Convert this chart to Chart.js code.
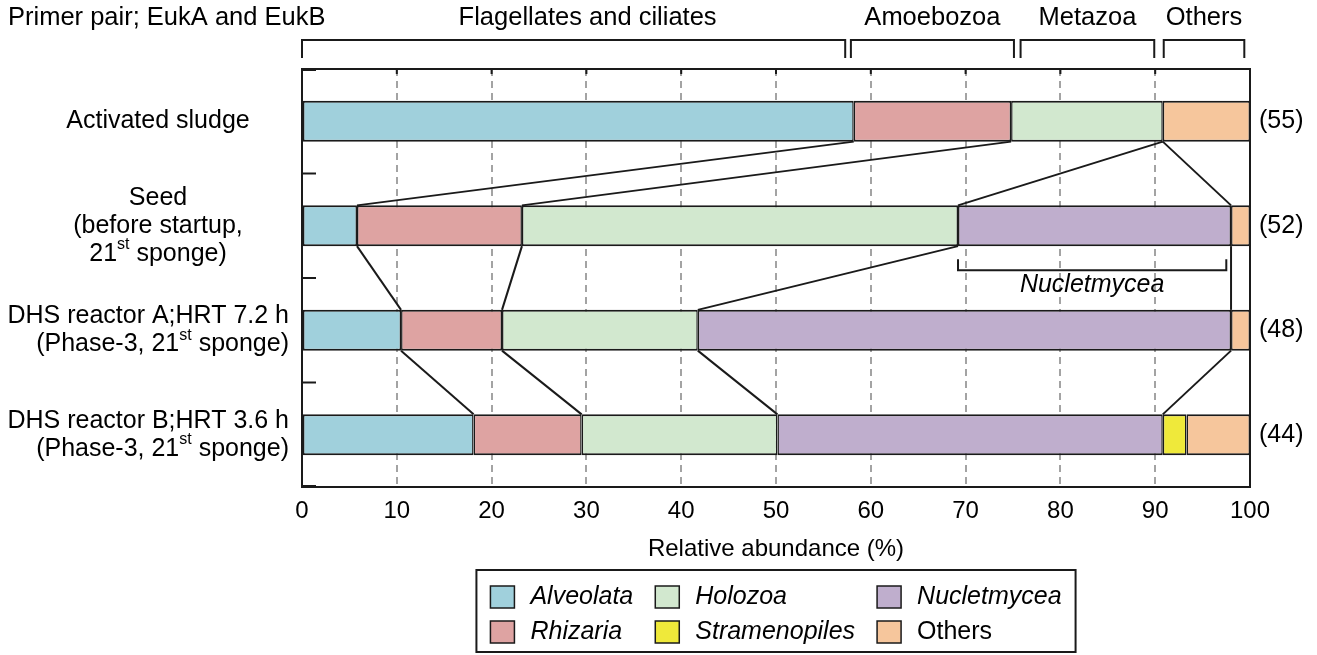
<!DOCTYPE html>
<html lang="en">
<head>
<meta charset="UTF-8">
<title>Eukaryotic community composition</title>
<script src="https://cdn.jsdelivr.net/npm/chart.js"></script>
<style>
  html, body { margin: 0; padding: 0; background: #fff; }
  .wrap { width: 1317px; height: 655px; }
</style>
</head>
<body>
<div class="wrap"><canvas id="myChart" width="1317" height="655"></canvas></div>
<script>
// rows, top to bottom ("^{st}" marks a superscript)
const rowLabels = [
  'Activated sludge',
  'Seed\n(before startup,\n21^{st} sponge)',
  'DHS reactor A;HRT 7.2 h\n(Phase-3, 21^{st} sponge)',
  'DHS reactor B;HRT 3.6 h\n(Phase-3, 21^{st} sponge)'
];
const rowCounts = ['(55)', '(52)', '(48)', '(44)'];

// relative abundance (%) per row
const alveolata     = [58.2, 5.8, 10.45, 18.1];
const rhizaria      = [16.6, 17.4, 10.65, 11.4];
const holozoa       = [16.0, 46.0, 20.65, 20.65];
const nucletmycea   = [0, 28.8, 56.25, 40.65];
const stramenopiles = [0, 0, 0, 2.5];
const others        = [9.2, 2.0, 2.0, 6.7];

const seriesNames = ['Alveolata', 'Rhizaria', 'Holozoa', 'Nucletmycea', 'Stramenopiles', 'Others'];
const seriesItalic = [true, true, true, true, true, false];
// legend columns (series indices, top to bottom)
const legendColumns = [[0, 1], [2, 4], [3, 5]];

const xTicks = [0, 10, 20, 30, 40, 50, 60, 70, 80, 90, 100];

// brackets above the chart (x range in %)
const groupLabels = ['Flagellates and ciliates', 'Amoebozoa', 'Metazoa', 'Others'];
const groupFrom = [0, 57.9, 75.8, 90.9];
const groupTo = [57.3, 75.1, 89.9, 99.4];

// bracket under the Seed bar
const nucBracket = [69.2, 97.5];

const FONT = '"Liberation Sans", Arial, sans-serif';
const INK = '#1a1a1a';
const colors = ['#a0d0dc', '#dea3a2', '#d2e8cf', '#bfaecd', '#efe93a', '#f6c69c'];

function drawRich(ctx, line, x, y, align, size) {
  const parts = [];
  line.split(/(\^\{[^}]*\})/).forEach(p => {
    if (!p) return;
    if (p.startsWith('^{')) parts.push({ t: p.slice(2, -1), sup: true });
    else parts.push({ t: p, sup: false });
  });
  const supSize = Math.round(size * 0.62);
  let w = 0;
  parts.forEach(p => {
    ctx.font = (p.sup ? supSize : size) + 'px ' + FONT;
    p.w = ctx.measureText(p.t).width;
    w += p.w;
  });
  let cx = align === 'right' ? x - w : (align === 'center' ? x - w / 2 : x);
  ctx.textAlign = 'left';
  ctx.textBaseline = 'middle';
  parts.forEach(p => {
    ctx.font = (p.sup ? supSize : size) + 'px ' + FONT;
    ctx.fillText(p.t, cx, p.sup ? y - size * 0.36 : y);
    cx += p.w;
  });
}

function line(ctx, x1, y1, x2, y2) {
  ctx.beginPath();
  ctx.moveTo(x1, y1);
  ctx.lineTo(x2, y2);
  ctx.stroke();
}

const decor = {
  id: 'decor',
  beforeDatasetsDraw(chart) {
    const { ctx, chartArea: a, scales: { x, y } } = chart;
    ctx.save();
    ctx.strokeStyle = INK;
    ctx.lineWidth = 2;
    ctx.strokeRect(a.left, a.top, a.right - a.left, a.bottom - a.top);
    // inward ticks on the left at category boundaries
    const n = rowLabels.length;
    for (let i = 0; i <= n; i++) {
      const py = i === 0 ? a.top + 1 : (i === n ? a.bottom - 1 :
        (y.getPixelForValue(i - 1) + y.getPixelForValue(i)) / 2);
      line(ctx, a.left, py, a.left + 14, py);
    }
    // small inward ticks on top
    xTicks.slice(1, -1).forEach(v => {
      const px = x.getPixelForValue(v);
      line(ctx, px, a.top, px, a.top + 5);
    });
    ctx.restore();
  },
  afterDatasetsDraw(chart) {
    const { ctx, chartArea: a, scales: { x, y } } = chart;
    const ds = chart.data.datasets;
    const bars = chart.getDatasetMeta(0).data;
    const cum = (row, upto) => {
      let s = 0;
      for (let k = 0; k <= upto; k++) s += ds[k].data[row];
      return s;
    };
    ctx.save();
    ctx.strokeStyle = INK;
    ctx.fillStyle = '#000';
    ctx.lineWidth = 2;

    // connector lines between consecutive bars
    for (let r = 0; r < bars.length - 1; r++) {
      const yb = bars[r].y + bars[r].height / 2;
      const yt = bars[r + 1].y - bars[r + 1].height / 2;
      for (let s = 0; s < 4; s++) {
        line(ctx, x.getPixelForValue(cum(r, s)), yb, x.getPixelForValue(cum(r + 1, s)), yt);
      }
    }

    // Nucletmycea bracket under Seed
    const sb = bars[1].y + bars[1].height / 2;
    const bx1 = x.getPixelForValue(nucBracket[0]);
    const bx2 = x.getPixelForValue(nucBracket[1]);
    ctx.beginPath();
    ctx.moveTo(bx1, sb + 13);
    ctx.lineTo(bx1, sb + 24);
    ctx.lineTo(bx2, sb + 24);
    ctx.lineTo(bx2, sb + 13);
    ctx.stroke();
    ctx.font = 'italic 25px ' + FONT;
    ctx.textAlign = 'center';
    ctx.textBaseline = 'middle';
    ctx.fillText('Nucletmycea', (bx1 + bx2) / 2, sb + 39);

    // group brackets on top
    groupLabels.forEach((g, i) => {
      const gx1 = x.getPixelForValue(groupFrom[i]);
      const gx2 = x.getPixelForValue(groupTo[i]);
      ctx.beginPath();
      ctx.moveTo(gx1, a.top - 11);
      ctx.lineTo(gx1, a.top - 29);
      ctx.lineTo(gx2, a.top - 29);
      ctx.lineTo(gx2, a.top - 11);
      ctx.stroke();
      ctx.font = '25.5px ' + FONT;
      ctx.textAlign = 'center';
      const shift = i === 0 ? 14 : 0;
      ctx.fillText(g, (gx1 + gx2) / 2 + shift, 18);
    });
    ctx.textAlign = 'left';
    ctx.fillText('Primer pair; EukA and EukB', 8, 18);

    // row labels and counts
    const opt = chart.options.plugins.decor;
    rowLabels.forEach((lab, r) => {
      const lines = lab.split('\n');
      const cy = y.getPixelForValue(r);
      const lh = 28;
      lines.forEach((ln, k) => {
        const ly = cy + (k - (lines.length - 1) / 2) * lh;
        const al = opt.align[r];
        drawRich(ctx, ln, al === 'right' ? opt.rightX : opt.centerX, ly, al, 25);
      });
      ctx.font = '25px ' + FONT;
      ctx.textAlign = 'left';
      ctx.fillText(rowCounts[r], a.right + 9, cy);
    });

    // legend, three columns of two
    const colW = legendColumns.map(col => {
      let m = 0;
      col.forEach(i => {
        ctx.font = (seriesItalic[i] ? 'italic ' : '') + '25px ' + FONT;
        m = Math.max(m, ctx.measureText(seriesNames[i]).width);
      });
      return m;
    });
    const sw = 24, gapText = 16, gapCol = 22, padX = 14;
    const totalW = padX * 2 + colW.reduce((s, w) => s + sw + gapText + w, 0) + gapCol * 2;
    const boxL = (a.left + a.right) / 2 - totalW / 2;
    const boxT = 570, boxH = 82;
    ctx.strokeRect(boxL, boxT, totalW, boxH);
    let cx = boxL + padX;
    legendColumns.forEach((col, c) => {
      col.forEach((i, k) => {
        const ry = boxT + 27 + k * 35;
        ctx.fillStyle = ds[i].backgroundColor;
        ctx.fillRect(cx, ry - 11, sw, 22);
        ctx.lineWidth = 1.5;
        ctx.strokeRect(cx, ry - 11, sw, 22);
        ctx.fillStyle = '#000';
        ctx.font = (seriesItalic[i] ? 'italic ' : '') + '25px ' + FONT;
        ctx.textAlign = 'left';
        ctx.fillText(seriesNames[i], cx + sw + gapText, ry);
      });
      cx += sw + gapText + colW[c] + gapCol;
    });
    ctx.restore();
  }
};

const seriesData = [alveolata, rhizaria, holozoa, nucletmycea, stramenopiles, others];

new Chart(document.getElementById('myChart'), {
  type: 'bar',
  data: {
    labels: rowLabels,
    datasets: seriesData.map((d, i) => ({
      label: seriesNames[i],
      data: d,
      backgroundColor: colors[i],
      borderColor: INK,
      borderWidth: { top: 2, bottom: 2, left: 1.5, right: 1.5 },
      borderSkipped: false,
      barPercentage: 0.39,
      categoryPercentage: 1
    }))
  },
  plugins: [decor],
  options: {
    indexAxis: 'y',
    responsive: false,
    animation: false,
    devicePixelRatio: 1,
    layout: { padding: { left: 302, right: 67, top: 69, bottom: 91 } },
    plugins: {
      legend: { display: false },
      tooltip: { enabled: false },
      decor: { align: ['center', 'center', 'right', 'right'], centerX: 158, rightX: 289 }
    },
    scales: {
      x: {
        stacked: true,
        min: 0,
        max: 100,
        afterFit: s => { s.height = 77; },
        afterBuildTicks: s => { s.ticks = xTicks.map(v => ({ value: v })); },
        ticks: { color: '#000', padding: 10, font: { size: 24, family: FONT } },
        grid: {
          drawTicks: false,
          lineWidth: 2,
          color: c => (c.tick && (c.tick.value === 0 || c.tick.value === 100)) ? 'rgba(0,0,0,0)' : '#a3a3a3'
        },
        border: { display: false, dash: [7, 5] },
        title: { display: true, text: 'Relative abundance (%)', color: '#000', padding: 0, font: { size: 24, family: FONT } }
      },
      y: {
        stacked: true,
        afterFit: s => { s.width = 0; },
        ticks: { display: false },
        grid: { display: false },
        border: { display: false }
      }
    }
  }
});
</script>
</body>
</html>
